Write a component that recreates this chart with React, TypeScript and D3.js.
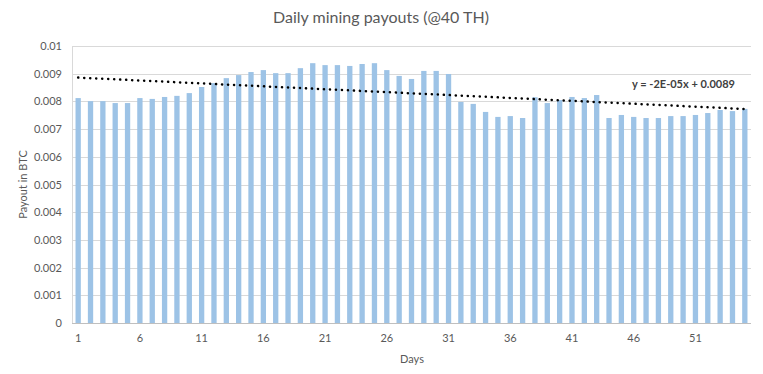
import React, { useRef, useEffect } from 'react';
import { select, scaleBand, scaleLinear, range } from 'd3';

const width = 763;
const height = 374;
const margin = { left: 72, right: 12, top: 46, bottom: 51 };

const days = range(1, 56);
const payouts = [
  0.00812, 0.00801, 0.00801, 0.00794, 0.00794, 0.00812, 0.00809, 0.00816, 0.0082, 0.0083,
  0.00852, 0.00866, 0.00884, 0.00895, 0.00906, 0.00913, 0.00902, 0.00902, 0.0092, 0.00938,
  0.00931, 0.00931, 0.00928, 0.00935, 0.00938, 0.00913, 0.00892, 0.00881, 0.0091, 0.0091,
  0.00899, 0.00798, 0.00791, 0.00762, 0.00744, 0.00747, 0.0074, 0.00815, 0.00794, 0.00805,
  0.00816, 0.00812, 0.00823, 0.0074, 0.00751, 0.00744, 0.0074, 0.0074, 0.00747, 0.00747,
  0.00751, 0.00758, 0.00769, 0.00765, 0.00773,
];
const yTicks = [0, 0.001, 0.002, 0.003, 0.004, 0.005, 0.006, 0.007, 0.008, 0.009, 0.01];
const xTickDays = [1, 6, 11, 16, 21, 26, 31, 36, 41, 46, 51];
const trendLabel = 'y = -2E-05x + 0.0089';

const font = 'Lato, "Open Sans", sans-serif';

const App = () => {
  const d3svg = useRef(null);

  useEffect(() => {
    document.body.style.margin = '0';
    const svg = select(d3svg.current);
    svg.selectAll('*').remove();

    const x = scaleBand()
      .domain(days.map(String))
      .range([margin.left, width - margin.right])
      .paddingInner(0.57)
      .paddingOuter(0.285);
    const y = scaleLinear().domain([0, 0.01]).range([height - margin.bottom, margin.top]);

    // gridlines
    svg.append('g')
      .selectAll('line')
      .data(yTicks.slice(1))
      .join('line')
      .attr('x1', margin.left)
      .attr('x2', width - margin.right)
      .attr('y1', d => Math.round(y(d)) + 0.5)
      .attr('y2', d => Math.round(y(d)) + 0.5)
      .attr('stroke', '#d9d9d9')
      .attr('stroke-width', 1);

    // bars
    svg.append('g')
      .selectAll('rect')
      .data(payouts)
      .join('rect')
      .attr('x', (d, i) => x(String(days[i])))
      .attr('width', x.bandwidth())
      .attr('y', d => y(d))
      .attr('height', d => y(0) - y(d))
      .attr('fill', '#9dc3e6');

    // axis lines
    svg.append('line')
      .attr('x1', margin.left).attr('x2', width - margin.right)
      .attr('y1', Math.round(y(0)) + 0.5).attr('y2', Math.round(y(0)) + 0.5)
      .attr('stroke', '#bfbfbf');
    svg.append('line')
      .attr('x1', margin.left + 0.5).attr('x2', margin.left + 0.5)
      .attr('y1', y(0.01)).attr('y2', y(0))
      .attr('stroke', '#d9d9d9');

    // linear trendline (least squares over the data)
    const n = payouts.length;
    const mx = days.reduce((a, b) => a + b, 0) / n;
    const my = payouts.reduce((a, b) => a + b, 0) / n;
    let sxy = 0, sxx = 0;
    days.forEach((d, i) => { sxy += (d - mx) * (payouts[i] - my); sxx += (d - mx) ** 2; });
    const slope = sxy / sxx;
    const icpt = my - slope * mx;
    const cx = d => x(String(d)) + x.bandwidth() / 2;
    svg.append('line')
      .attr('x1', cx(1)).attr('y1', y(icpt + slope * 1))
      .attr('x2', cx(55)).attr('y2', y(icpt + slope * 55))
      .attr('stroke', '#000')
      .attr('stroke-width', 2.5)
      .attr('stroke-linecap', 'round')
      .attr('stroke-dasharray', '0.1 5.9');

    svg.append('text')
      .attr('x', 735).attr('y', 88)
      .attr('text-anchor', 'end')
      .attr('font-family', font)
      .attr('font-size', 11)
      .attr('font-weight', 'bold')
      .attr('fill', '#404040')
      .text(trendLabel);

    // y tick labels
    svg.append('g')
      .selectAll('text')
      .data(yTicks)
      .join('text')
      .attr('x', 62)
      .attr('y', d => y(d) + 4)
      .attr('text-anchor', 'end')
      .attr('font-family', font)
      .attr('font-size', 11)
      .attr('fill', '#595959')
      .text(d => d === 0 ? '0' : String(+d.toFixed(3)));

    // x tick labels
    svg.append('g')
      .selectAll('text')
      .data(xTickDays)
      .join('text')
      .attr('x', d => cx(d))
      .attr('y', 342)
      .attr('text-anchor', 'middle')
      .attr('font-family', font)
      .attr('font-size', 11)
      .attr('fill', '#595959')
      .text(d => d);

    // titles
    svg.append('text')
      .attr('x', 381).attr('y', 23)
      .attr('text-anchor', 'middle')
      .attr('font-family', font)
      .attr('font-size', 16)
      .attr('fill', '#595959')
      .text('Daily mining payouts (@40 TH)');

    svg.append('text')
      .attr('x', 412).attr('y', 363)
      .attr('text-anchor', 'middle')
      .attr('font-family', font)
      .attr('font-size', 11)
      .attr('fill', '#595959')
      .text('Days');

    svg.append('text')
      .attr('transform', `translate(27, ${(y(0) + y(0.01)) / 2}) rotate(-90)`)
      .attr('text-anchor', 'middle')
      .attr('font-family', font)
      .attr('font-size', 11)
      .attr('fill', '#595959')
      .text('Payout in BTC');
  }, []);

  return (
    <svg width={width} height={height} ref={d3svg} style={{ display: 'block', background: '#fff' }}></svg>
  );
};

export default App;
